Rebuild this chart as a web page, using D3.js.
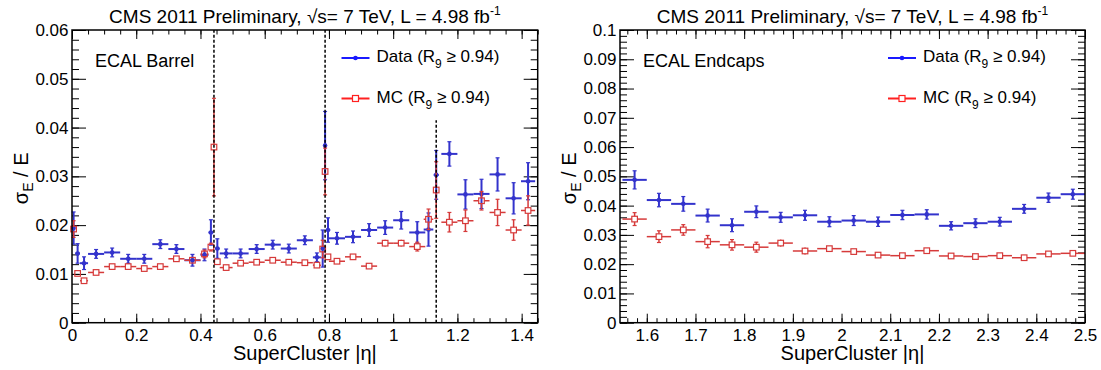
<!DOCTYPE html>
<html>
<head>
<meta charset="utf-8">
<script src="https://cdn.jsdelivr.net/npm/d3@7"></script>
<style>
  body { margin: 0; background: #fff; }
  svg text { font-family: "Liberation Sans", Arial, Helvetica, sans-serif; fill: #000; }
</style>
</head>
<body>
<svg id="chart" width="1101" height="370"></svg>
<script>
// ECAL barrel bins (|eta| centre, half width), data and MC resolution
const barrelEta = [0.005, 0.0175, 0.0375, 0.075, 0.125, 0.175, 0.225, 0.275, 0.325, 0.375,
  0.4125, 0.4325, 0.442, 0.4525, 0.48, 0.525, 0.575, 0.625, 0.675, 0.725,
  0.7625, 0.7805, 0.788, 0.797, 0.825, 0.875, 0.925, 0.975, 1.025, 1.075,
  1.11, 1.134, 1.175, 1.225, 1.275, 1.325, 1.375, 1.42];
const barrelHalfWidth = [0.005, 0.0075, 0.0125, 0.025, 0.025, 0.025, 0.025, 0.025, 0.025, 0.025,
  0.0125, 0.0075, 0.002, 0.0075, 0.02, 0.025, 0.025, 0.025, 0.025, 0.025,
  0.0125, 0.005, 0.002, 0.007, 0.025, 0.025, 0.025, 0.025, 0.025, 0.025,
  0.015, 0.008, 0.025, 0.025, 0.025, 0.025, 0.025, 0.022];
const barrelData = [0.0194, 0.0142, 0.0122, 0.0141, 0.0144, 0.0131, 0.0131, 0.0161, 0.0151, 0.0128,
  0.0139, 0.0185, null, 0.0152, 0.0142, 0.0142, 0.0151, 0.0160, 0.0152, 0.0169,
  0.0134, 0.0152, 0.0363, 0.0190, 0.0173, 0.0176, 0.0190, 0.0195, 0.0210, 0.0185,
  0.0191, 0.0303, 0.0346, 0.0263, 0.0264, 0.0304, 0.0255, 0.0290];
const barrelDataErr = [0.0033, 0.0020, 0.0013, 0.0009, 0.0009, 0.0009, 0.0009, 0.0009, 0.0009, 0.0012,
  0.0012, 0.0026, null, 0.0020, 0.0009, 0.0009, 0.0009, 0.0009, 0.0009, 0.0009,
  0.0009, 0.0038, 0.0070, 0.0025, 0.0012, 0.0012, 0.0013, 0.0014, 0.0018, 0.0022,
  0.0034, 0.0050, 0.0025, 0.0030, 0.0030, 0.0034, 0.0032, 0.0038];
const barrelMC = [0.0192, 0.0101, 0.0086, 0.0103, 0.0115, 0.0115, 0.0111, 0.0115, 0.0131, 0.0128,
  0.0141, 0.0155, 0.0360, 0.0125, 0.0113, 0.0122, 0.0124, 0.0128, 0.0124, 0.0123,
  0.0118, 0.0151, 0.0310, 0.0135, 0.0126, 0.0135, 0.0116, 0.0163, 0.0163, 0.0156,
  0.0212, 0.0272, 0.0206, 0.0209, 0.0250, 0.0226, 0.0190, 0.0230];
const barrelMCErr = [0.0017, 0.0006, 0.0005, 0.0004, 0.0004, 0.0004, 0.0004, 0.0004, 0.0004, 0.0005,
  0.0008, 0.0008, 0.0100, 0.0005, 0.0004, 0.0004, 0.0004, 0.0004, 0.0004, 0.0004,
  0.0004, 0.0018, 0.0048, 0.0006, 0.0004, 0.0005, 0.0005, 0.0007, 0.0007, 0.0009,
  0.0021, 0.0058, 0.0020, 0.0022, 0.0019, 0.0027, 0.0021, 0.0030];
// module boundaries (dashed), and how high each line goes
const barrelBoundaryEta = [0.442, 0.788, 1.134];
const barrelBoundaryTop = [0.06, 0.06, 0.0415];

// ECAL endcap bins
const endcapEta = [1.575, 1.625, 1.675, 1.725, 1.775, 1.825, 1.875, 1.925, 1.975, 2.025,
  2.075, 2.125, 2.175, 2.225, 2.275, 2.325, 2.375, 2.425, 2.475];
const endcapHalfWidth = 0.025;
const endcapData = [0.0488, 0.0419, 0.0406, 0.0366, 0.0333, 0.0379, 0.0360, 0.0367, 0.0345, 0.0349,
  0.0345, 0.0368, 0.0370, 0.0331, 0.0340, 0.0345, 0.0389, 0.0427, 0.0439];
const endcapDataErr = [0.0031, 0.0023, 0.0025, 0.0022, 0.0022, 0.0020, 0.0017, 0.0017, 0.0017, 0.0017,
  0.0016, 0.0016, 0.0016, 0.0014, 0.0015, 0.0015, 0.0015, 0.0016, 0.0017];
const endcapMC = [0.0354, 0.0294, 0.0317, 0.0277, 0.0266, 0.0258, 0.0272, 0.0245, 0.0253, 0.0243,
  0.0231, 0.0229, 0.0246, 0.0228, 0.0226, 0.0229, 0.0222, 0.0235, 0.0237];
const endcapMCErr = [0.0022, 0.0020, 0.0018, 0.0021, 0.0018, 0.0017, 0.0012, 0.0012, 0.0010, 0.0010,
  0.0009, 0.0009, 0.0009, 0.0008, 0.0008, 0.0008, 0.0008, 0.0008, 0.0008];

const dataColor = '#3333cc';
const mcColor = '#d63a3a';

const svg = d3.select('#chart');
svg.append('rect').attr('width', 1101).attr('height', 370).attr('fill', '#fff');

const fmt = d => String(+d.toFixed(3));
const steps = (lo, hi, step) => d3.range(Math.ceil(lo / step - 1e-6), Math.floor(hi / step + 1e-6) + 1)
  .map(i => +(i * step).toFixed(4));

function drawPanel(p) {
  const g = svg.append('g');
  const x = d3.scaleLinear().domain(p.xDomain).range([p.left, p.right]);
  const y = d3.scaleLinear().domain(p.yDomain).range([p.bottom, p.top]);

  // ROOT style: ticks on all four sides, pointing inwards
  const axis = (gen, scale, vals, size, pad, labels, tr) => {
    const a = g.append('g').attr('transform', tr)
      .call(gen(scale).tickValues(vals).tickSize(size).tickSizeOuter(0).tickPadding(pad)
        .tickFormat(labels ? fmt : ''));
    a.select('.domain').remove();
    a.attr('font-family', null).attr('font-size', null);
    a.selectAll('line').attr('stroke', '#000').attr('stroke-width', 1);
    a.selectAll('text').style('font-size', '17px');
  };
  const xMajor = steps(p.xDomain[0], p.xDomain[1], p.xMajor);
  const xMinor = steps(p.xDomain[0], p.xDomain[1], p.xMinor);
  const yMajor = steps(p.yDomain[0], p.yDomain[1], p.yMajor);
  const yMinor = steps(p.yDomain[0], p.yDomain[1], p.yMinor);

  axis(d3.axisBottom, x, xMinor, -4.5, 6, false, `translate(0,${p.bottom})`);
  axis(d3.axisBottom, x, xMajor, -9, 6, true, `translate(0,${p.bottom})`);
  axis(d3.axisTop, x, xMinor, -4.5, 0, false, `translate(0,${p.top})`);
  axis(d3.axisTop, x, xMajor, -9, 0, false, `translate(0,${p.top})`);
  axis(d3.axisLeft, y, yMinor, -7, 3.5, false, `translate(${p.left},0)`);
  axis(d3.axisLeft, y, yMajor, -14, 3.5, true, `translate(${p.left},0)`);
  axis(d3.axisRight, y, yMinor, -7, 0, false, `translate(${p.right},0)`);
  axis(d3.axisRight, y, yMajor, -14, 0, false, `translate(${p.right},0)`);

  // error bars + markers
  const drawSeries = (vals, errs, color, width, hollow) => {
    const s = g.append('g').attr('stroke', color).attr('stroke-width', width);
    const gap = hollow ? 2.8 : 0;
    vals.forEach((v, i) => {
      if (v == null) return;
      const c = p.eta[i];
      const hw = Array.isArray(p.halfWidth) ? p.halfWidth[i] : p.halfWidth;
      const cx = x(c), cy = y(v);
      const segs = [
        [x(c - hw), cy, cx - gap, cy],
        [cx + gap, cy, x(c + hw), cy],
        [cx, y(v + errs[i]), cx, cy - gap],
        [cx, cy + gap, cx, y(v - errs[i])]
      ];
      segs.forEach(([x1, y1, x2, y2]) => {
        if (Math.hypot(x2 - x1, y2 - y1) < 0.5 || (x2 < x1) || (y2 < y1)) return;
        s.append('line').attr('x1', x1).attr('y1', y1).attr('x2', x2).attr('y2', y2);
      });
      // small end caps on the vertical error
      [y(v + errs[i]), y(v - errs[i])].forEach(yy => {
        if (Math.abs(yy - cy) <= gap + 1) return;
        s.append('line').attr('x1', cx - 2).attr('x2', cx + 2).attr('y1', yy).attr('y2', yy)
          .attr('stroke-width', 1.2);
      });
      if (hollow) {
        g.append('rect').attr('x', cx - 2.8).attr('y', cy - 2.8).attr('width', 5.6).attr('height', 5.6)
          .attr('fill', 'none').attr('stroke', color).attr('stroke-width', 1.2);
      } else {
        g.append('circle').attr('cx', cx).attr('cy', cy).attr('r', 2.3).attr('fill', color);
      }
    });
  };
  drawSeries(p.data, p.dataErr, dataColor, 2, false);
  drawSeries(p.mc, p.mcErr, mcColor, 1.5, true);

  if (p.boundaryEta) {
    p.boundaryEta.forEach((b, i) => {
      g.append('line').attr('x1', x(b)).attr('x2', x(b))
        .attr('y1', y(0)).attr('y2', y(p.boundaryTop[i]))
        .attr('stroke', '#000').attr('stroke-width', 1.5).attr('stroke-dasharray', '3,2');
    });
  }

  g.append('rect').attr('x', p.left).attr('y', p.top)
    .attr('width', p.right - p.left).attr('height', p.bottom - p.top)
    .attr('fill', 'none').attr('stroke', '#000').attr('stroke-width', 1.5);

  const cx = (p.left + p.right) / 2;
  const title = g.append('text').attr('x', cx).attr('y', 23)
    .attr('text-anchor', 'middle').style('font-size', '19px');
  title.append('tspan').text('CMS 2011 Preliminary, √s= 7 TeV, L = 4.98 fb');
  title.append('tspan').attr('dy', -8).style('font-size', '12px').text('-1');

  g.append('text').attr('x', p.left + 23).attr('y', 67).style('font-size', '18px').text(p.label);

  const xt = g.append('text').attr('x', cx).attr('y', 360)
    .attr('text-anchor', 'middle').style('font-size', '20px');
  xt.text('SuperCluster |η|');

  const yt = g.append('text')
    .attr('transform', `translate(${p.left - 44},${(p.top + p.bottom) / 2 + 2}) rotate(-90)`)
    .attr('text-anchor', 'middle').style('font-size', '20px');
  yt.append('tspan').text('σ');
  yt.append('tspan').attr('dy', 5).style('font-size', '14px').text('E');
  yt.append('tspan').attr('dy', -5).text(' / E');

  // legend
  const lx = p.legendX;
  [[58, '#1a1aff', 'Data', false], [98.5, '#ff2020', 'MC', true]].forEach(([ly, col, name, hollow]) => {
    g.append('line').attr('x1', lx).attr('x2', lx + 28).attr('y1', ly).attr('y2', ly)
      .attr('stroke', col).attr('stroke-width', 2);
    if (hollow) {
      g.append('rect').attr('x', lx + 11).attr('y', ly - 3).attr('width', 6).attr('height', 6)
        .attr('fill', '#fff').attr('stroke', col).attr('stroke-width', 1.2);
    } else {
      g.append('circle').attr('cx', lx + 14).attr('cy', ly).attr('r', 2.3).attr('fill', col);
    }
    const t = g.append('text').attr('x', lx + 35).attr('y', ly + 4).style('font-size', '17px');
    t.append('tspan').text(`${name} (R`);
    t.append('tspan').attr('dy', 6).style('font-size', '12px').text('9');
    t.append('tspan').attr('dy', -6).text(' ≥ 0.94)');
  });
}

drawPanel({
  left: 72, right: 537.7, top: 30, bottom: 322.7,
  xDomain: [0, 1.45], yDomain: [0, 0.06],
  xMajor: 0.2, xMinor: 0.05, yMajor: 0.01, yMinor: 0.002,
  eta: barrelEta, halfWidth: barrelHalfWidth,
  data: barrelData, dataErr: barrelDataErr, mc: barrelMC, mcErr: barrelMCErr,
  boundaryEta: barrelBoundaryEta, boundaryTop: barrelBoundaryTop,
  label: 'ECAL Barrel', legendX: 341.5
});

drawPanel({
  left: 620, right: 1085, top: 30, bottom: 322.7,
  xDomain: [1.545, 2.5], yDomain: [0, 0.1],
  xMajor: 0.1, xMinor: 0.02, yMajor: 0.01, yMinor: 0.002,
  eta: endcapEta, halfWidth: endcapHalfWidth,
  data: endcapData, dataErr: endcapDataErr, mc: endcapMC, mcErr: endcapMCErr,
  label: 'ECAL Endcaps', legendX: 888
});
</script>
</body>
</html>
